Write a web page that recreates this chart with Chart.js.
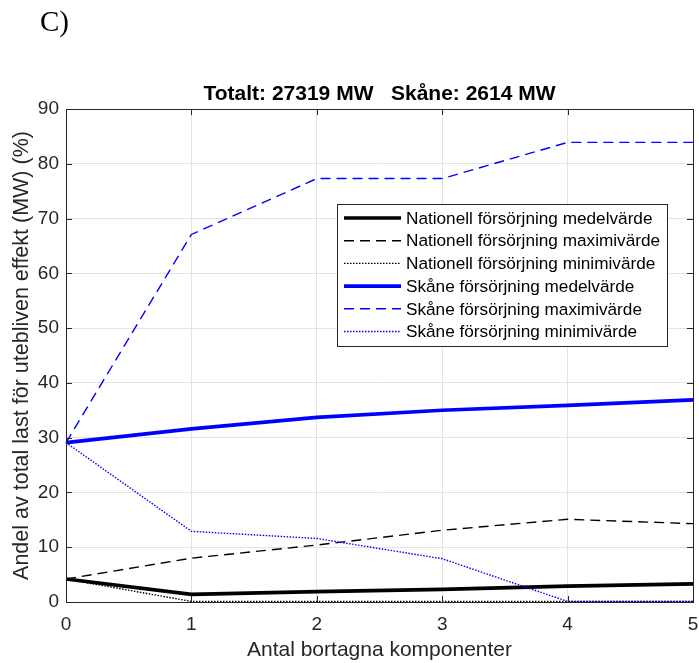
<!DOCTYPE html>
<html>
<head>
<meta charset="utf-8">
<script src="https://cdn.jsdelivr.net/npm/chart.js@4.4.1/dist/chart.umd.min.js"></script>
<style>
  html, body { margin: 0; padding: 0; background: #fff; }
  #wrap { width: 699px; height: 663px; position: relative; }
</style>
</head>
<body>
<div id="wrap"><canvas id="c" width="699" height="663"></canvas></div>
<script>
// ---- Data ----
const xValues = [0, 1, 2, 3, 4, 5];
const natMean = [4.2, 1.4, 1.9, 2.3, 2.9, 3.3];
const natMax  = [4.2, 8.0, 10.4, 13.1, 15.1, 14.3];
const natMin  = [4.2, 0.1, 0.1, 0.1, 0.1, 0.1];
const skaMean = [29.1, 31.6, 33.7, 35.0, 35.9, 36.9];
const skaMax  = [29.1, 67.1, 77.3, 77.3, 83.9, 83.9];
const skaMin  = [29.1, 12.9, 11.6, 7.9, 0.1, 0.1];
const seriesLabels = [
  "Nationell försörjning medelvärde",
  "Nationell försörjning maximivärde",
  "Nationell försörjning minimivärde",
  "Skåne försörjning medelvärde",
  "Skåne försörjning maximivärde",
  "Skåne försörjning minimivärde"
];
const yTicks = [0, 10, 20, 30, 40, 50, 60, 70, 80, 90];
const xTicks = [0, 1, 2, 3, 4, 5];
const chartTitle = "Totalt: 27319 MW   Skåne: 2614 MW";
const panelLabel = "C)";
const xTitle = "Antal bortagna komponenter";
const yTitle = "Andel av total last för utebliven effekt (MW) (%)";

const SANS = "'Liberation Sans', Arial, sans-serif";
const BLUE = "#0000ff";
const BLACK = "#000000";

function pts(arr) { return arr.map((v, i) => ({ x: xValues[i], y: v })); }

const styles = [
  { color: BLACK, width: 3.6, dash: [] },
  { color: BLACK, width: 1.4, dash: [10, 6] },
  { color: BLACK, width: 1.4, dash: [1.5, 1.5] },
  { color: BLUE,  width: 3.6, dash: [] },
  { color: BLUE,  width: 1.4, dash: [10, 6] },
  { color: BLUE,  width: 1.4, dash: [1.5, 1.5] }
];
const seriesData = [natMean, natMax, natMin, skaMean, skaMax, skaMin];

const datasets = seriesData.map((d, i) => ({
  label: seriesLabels[i],
  data: pts(d),
  borderColor: styles[i].color,
  backgroundColor: styles[i].color,
  borderWidth: styles[i].width,
  borderDash: styles[i].dash,
  pointRadius: 0,
  tension: 0,
  fill: false,
  clip: 6,
  order: 6 - i
}));

const decor = {
  id: 'decor',
  afterDraw(chart) {
    const ctx = chart.ctx;
    const a = chart.chartArea;
    const xs = chart.scales.x, ys = chart.scales.y;
    ctx.save();
    // box
    ctx.strokeStyle = '#262626';
    ctx.lineWidth = 1;
    ctx.setLineDash([]);
    ctx.strokeRect(Math.round(a.left) + 0.5, Math.round(a.top) + 0.5,
                   Math.round(a.right - a.left), Math.round(a.bottom - a.top));
    // inner ticks
    const tl = 6;
    ctx.beginPath();
    xTicks.forEach(t => {
      const px = Math.round(xs.getPixelForValue(t)) + 0.5;
      ctx.moveTo(px, a.bottom); ctx.lineTo(px, a.bottom - tl);
      ctx.moveTo(px, a.top); ctx.lineTo(px, a.top + tl);
    });
    yTicks.forEach(t => {
      const py = Math.round(ys.getPixelForValue(t)) + 0.5;
      ctx.moveTo(a.left, py); ctx.lineTo(a.left + tl, py);
      ctx.moveTo(a.right, py); ctx.lineTo(a.right - tl, py);
    });
    ctx.stroke();

    // title
    ctx.fillStyle = '#000';
    ctx.font = "bold 21px " + SANS;
    ctx.textAlign = 'center';
    ctx.textBaseline = 'middle';
    ctx.fillText(chartTitle, (a.left + a.right) / 2, 94);

    // panel label
    ctx.font = "29px 'Liberation Serif', 'Times New Roman', serif";
    ctx.textAlign = 'left';
    ctx.fillText(panelLabel, 40, 23);

    // legend
    const lx = 337, ly = 204, lw = 330, lh = 142;
    ctx.fillStyle = '#fff';
    ctx.fillRect(lx, ly, lw, lh);
    ctx.strokeStyle = '#262626';
    ctx.lineWidth = 1;
    ctx.strokeRect(lx + 0.5, ly + 0.5, lw, lh);
    const rowH = 22.7;
    chart.data.datasets.forEach((ds, i) => {
      const cy = ly + 14 + i * rowH;
      ctx.beginPath();
      ctx.strokeStyle = ds.borderColor;
      ctx.lineWidth = ds.borderWidth;
      ctx.setLineDash(ds.borderDash || []);
      ctx.moveTo(lx + 7, cy);
      ctx.lineTo(lx + 64, cy);
      ctx.stroke();
      ctx.setLineDash([]);
      ctx.fillStyle = '#000';
      ctx.font = "17.2px " + SANS;
      ctx.textAlign = 'left';
      ctx.textBaseline = 'middle';
      ctx.fillText(ds.label, lx + 69, cy + 1);
    });
    ctx.restore();
  }
};

new Chart(document.getElementById('c'), {
  type: 'line',
  data: { datasets },
  options: {
    responsive: false,
    animation: false,
    devicePixelRatio: 1,
    layout: { padding: { left: 0, right: 6, top: 109, bottom: 0 } },
    plugins: { legend: { display: false }, tooltip: { enabled: false }, title: { display: false } },
    scales: {
      x: {
        type: 'linear', min: 0, max: 5,
        afterBuildTicks: s => { s.ticks = xTicks.map(v => ({ value: v })); },
        afterFit: s => { s.height = 61; s.paddingLeft = 0; s.paddingRight = 0; },
        grid: { color: '#e3e3e3', lineWidth: 1, drawTicks: false },
        border: { display: false },
        ticks: { color: '#262626', font: { family: SANS, size: 19 }, padding: 11, maxRotation: 0 },
        title: { display: true, text: xTitle, color: '#262626', font: { family: SANS, size: 21 }, padding: { top: 0, bottom: 0 } }
      },
      y: {
        type: 'linear', min: 0, max: 90,
        afterBuildTicks: s => { s.ticks = yTicks.map(v => ({ value: v })); },
        afterFit: s => { s.width = 66; s.paddingTop = 0; s.paddingBottom = 0; },
        grid: { color: '#e3e3e3', lineWidth: 1, drawTicks: false },
        border: { display: false },
        ticks: { color: '#262626', font: { family: SANS, size: 19 }, padding: 7 },
        title: { display: true, text: yTitle, color: '#262626', font: { family: SANS, size: 21.5 }, padding: { top: 9, bottom: 0 } }
      }
    }
  },
  plugins: [decor]
});
</script>
</body>
</html>
